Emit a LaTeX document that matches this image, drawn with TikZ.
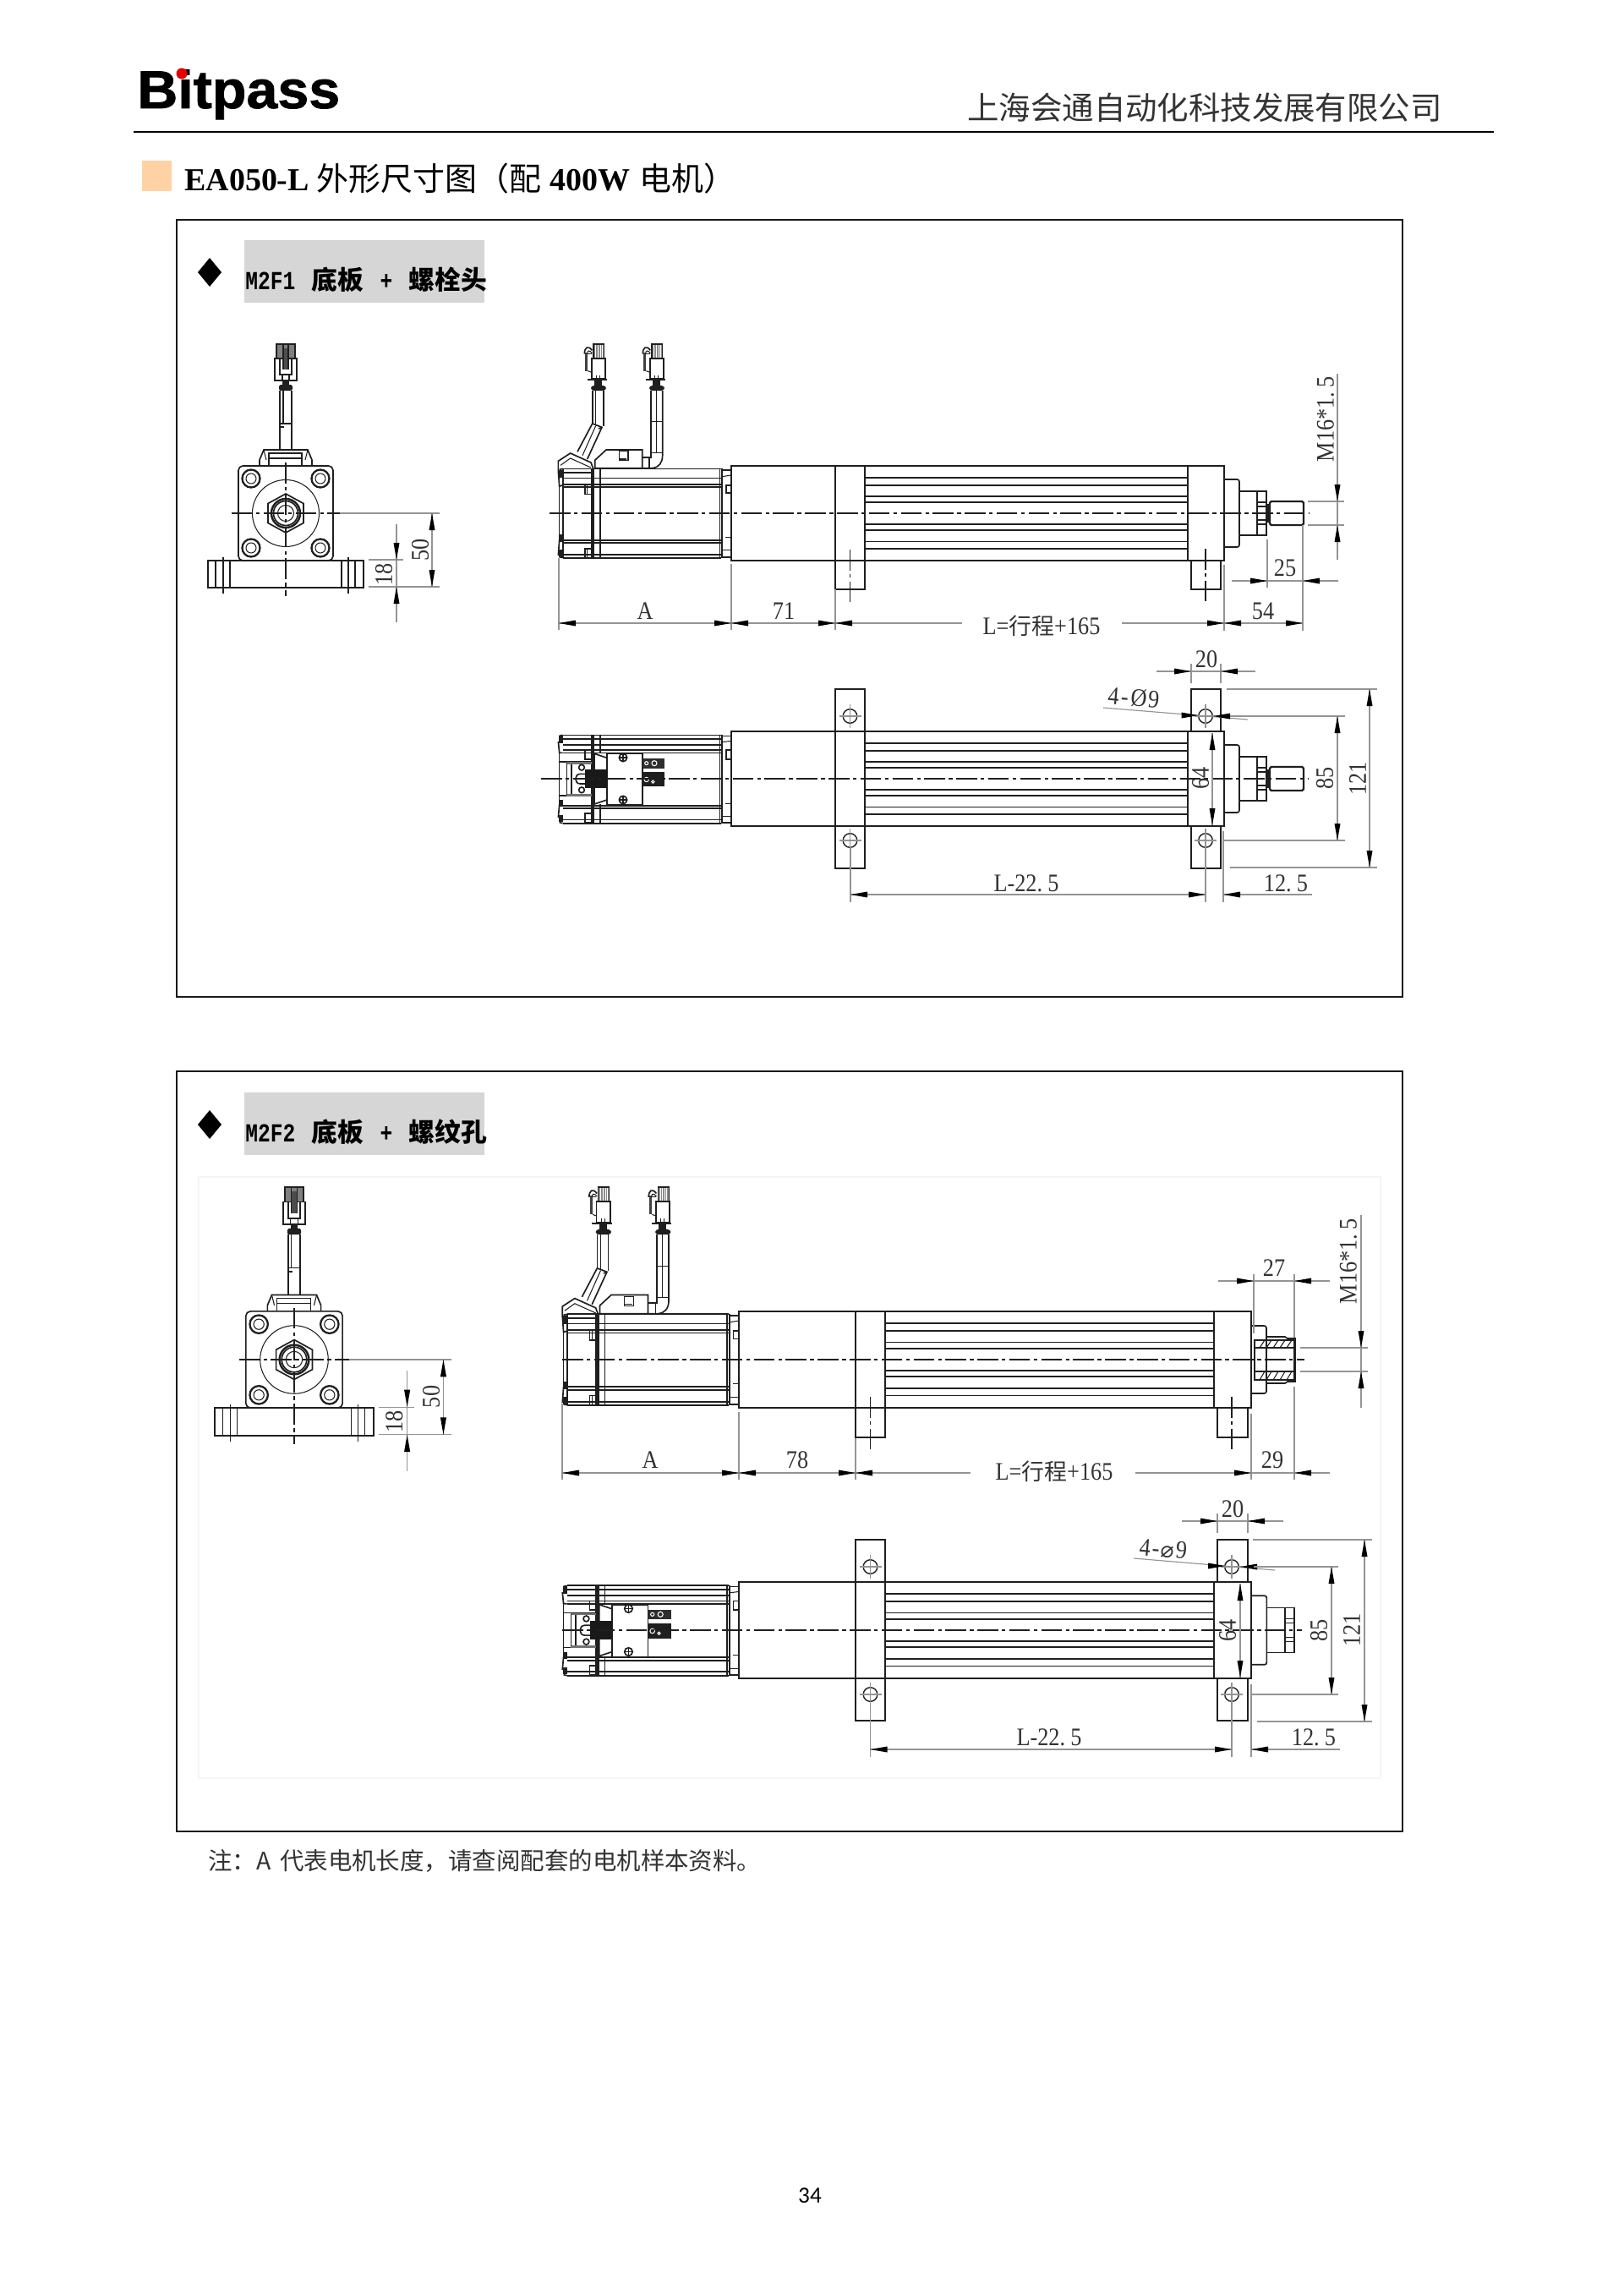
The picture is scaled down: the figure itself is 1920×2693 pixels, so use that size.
\documentclass[tikz,border=0pt]{standalone}
\usepackage{fontspec}
\setmainfont{Liberation Serif}
\newfontfamily\cjk{Noto Sans CJK SC}
\newfontfamily\cjkd[Scale=0.9]{Noto Sans CJK SC}
\newfontfamily\dimf[FakeStretch=0.88]{Liberation Serif}
\newfontfamily\logof[FakeStretch=1.05,FakeBold=1.2]{Liberation Sans Bold}
\newfontfamily\lblf[FakeStretch=0.8]{Liberation Mono Bold}
\newfontfamily\djv{DejaVu Sans}
\newfontfamily\pagef{Carlito}
\newcount\nc
\colorlet{ink}{black!88}
\colorlet{dimc}{black!42}
\tikzset{
 x=0.02cm,y=-0.02cm,
 ml/.style={draw=ink,line width=0.95pt},
 mt/.style={draw=ink,line width=0.6pt},
 dl/.style={draw=dimc,line width=0.65pt},
 cl/.style={draw=ink,line width=0.7pt,dash pattern=on 14pt off 2.5pt on 2.5pt off 2.5pt},
 dtx/.style={inner sep=0pt,font=\fontsize{17}{19}\selectfont\dimf,text=black!80},
 frameb/.style={draw=black!90,line width=1.5pt}
}
\newcommand\dt[4][0]{\global\advance\nc by 1 \node[dtx,rotate=#1] (t\the\nc) at (#2,#3) {#4};}
\newcommand\tipR[2]{\fill[black] (#1,#2)--++(-20,-3.5)--++(0,7)--cycle;}
\newcommand\tipL[2]{\fill[black] (#1,#2)--++(20,-3.5)--++(0,7)--cycle;}
\newcommand\tipD[2]{\fill[black] (#1,#2)--++(-3.5,-20)--++(7,0)--cycle;}
\newcommand\tipU[2]{\fill[black] (#1,#2)--++(-3.5,20)--++(7,0)--cycle;}
% front view, local pixels round the axis
\newcommand\frontview[3]{%
\begin{scope}[shift={(#1,#2)},scale=#3]
 \draw[ml,rounded corners=3pt] (-56,-56) rectangle (56,56);
 \foreach \a/\b in {-41/-41,41/-41,-41/41,41/41}{
  \draw[draw=ink,line width=1.3pt] (\a,\b) circle (10.5);
  \draw[mt] (\a,\b) circle (6);}
 \draw[mt] (0,0) circle (39.5);
 \draw[ml] (0,-23)--(21,-11.5)--(21,11.5)--(0,23)--(-21,11.5)--(-21,-11.5)--cycle;
 \draw[draw=ink,line width=1.4pt] (0,0) circle (17);
 \draw[ml] (0,0) circle (14.5);
 \draw[mt] (0,0) circle (9.5);
 \draw[ml] (-92,56) rectangle (92,88);
 \foreach \a in {-83,-66,66,82}{\draw[mt] (\a,56)--(\a,88);}
 \foreach \a in {-74,74}{\draw[ml] (\a,52)--(\a,95);}
 % top housing
 \draw[ml] (-31,-56)--(-31,-63)--(-26,-75)--(26,-75)--(31,-63)--(31,-56);
 \draw[ml] (-20,-56)--(-20,-71)--(19,-71)--(19,-56);
 \draw[mt] (-20,-65)--(19,-65);\draw[mt] (-26,-75)--(-23,-63);\draw[mt] (26,-75)--(23,-63);
 \draw[ml] (-7,-75)--(-7,-145);\draw[ml] (7,-75)--(7,-145);
 \draw[mt] (-3,-145)--(-3,-106);\draw[mt] (-7,-106)--(7,-106);\draw[mt] (-7,-102)--(-2,-102);
 \fill[ink,rounded corners=1pt] (-8,-152) rectangle (8,-145);
 \fill[ink] (-4,-157) rectangle (4,-152);
 \draw[ml] (-13,-183) rectangle (13,-157);
 \draw[ml] (-7,-183) rectangle (7,-164);
 \draw[mt] (-4,-157) rectangle (4,-164);
 \fill[black!50] (-11,-200) rectangle (11,-183);
 \draw[ml] (-11,-200) rectangle (11,-183);
 \fill[black!70] (-4,-195) rectangle (4,-170);
 \draw[mt] (-3,-200)--(-3,-170);\draw[mt] (3,-200)--(3,-170);
 % centre lines
 \draw[cl] (0,-60)--(0,98);
 \draw[cl] (-64,0)--(64,0);
 \draw[dl] (64,0)--(182,0);
 \draw[dl] (98,87)--(182,87);
 \draw[dl] (98,55)--(139,55);
 \draw[dl] (173,0)--(173,87);
 \draw[dl] (131,13)--(131,129);
 \tipU{173}{0}\tipD{173}{87}
 \tipD{131}{55}\tipU{131}{87}
 \dt[90]{159}{43}{50}
 \dt[90]{116}{72}{18}
\end{scope}}
% a cable connector in side view (zoom coordinates)
\newcommand\connside{%
 \fill[black!45] (187,50) rectangle (225,100);
 \draw[mt] (187,50) rectangle (225,100);
 \foreach \a in {195,203,211,218}{\draw[draw=white,line width=0.4pt] (\a,52)--(\a,98);}
 \draw[ml] (180,100) rectangle (228,172);
 \draw[ml] (165,176)--(235,176);
 \draw[mt] (197,160)--(197,176);\draw[mt] (209,160)--(209,176);
 \fill[black!75] (157,80) rectangle (167,145);
 \draw[mt] (167,85)--(180,85);\draw[mt] (167,145)--(180,150);
 \draw[ml] (182,72)..controls (167,52) and (155,62)..(155,85);
 \draw[mt] (182,82)..controls (172,70) and (165,72)..(165,85);
 \fill[ink] (190,178) rectangle (216,196);
 \fill[ink,rounded corners=2pt] (178,197) rectangle (232,215);}
\newcommand\motorside[3]{%
\begin{scope}[shift={(#1,#2)},scale=#3/3]\begin{scope}[shift={(-676,-650)}]
 \draw[ml] (78,492)--(640,492);\draw[ml] (78,808)--(640,808);
 \foreach \b in {525,547,557,745,755,797}{\draw[ml] (78,\b)--(640,\b);}
 \draw[ml] (78,505)--(180,505);
 \draw[ml] (78,492)--(78,808);
 \draw[ml] (66,495)--(78,492);\draw[ml] (66,805)--(78,808);
 \draw[ml] (62,500)--(66,555)--(78,550);
 \draw[ml] (62,800)--(66,745)--(78,745);
 \draw[mt] (66,555)--(66,745);
 \fill[ink] (63,497) rectangle (78,525);\fill[ink] (63,725) rectangle (78,752);\fill[ink] (63,778) rectangle (78,806);
 \foreach \a in {180,188}{\draw[draw=ink,line width=1.3pt] (\a,492)--(\a,808);}
 \draw[ml] (210,492)--(210,808);
 \draw[ml] (635,492)--(635,808);\draw[ml] (643,492)--(643,808);
 \draw[ml] (643,497)--(676,497);\draw[ml] (643,805)--(676,805);
 \draw[mt] (643,520)--(676,515);\draw[mt] (643,780)--(676,780);
 \draw[mt] (655,735)--(676,735);
 \draw[ml] (157,548) rectangle (185,582);\draw[mt] (165,548)--(165,582);
 \draw[ml] (157,775) rectangle (185,808);\draw[mt] (165,775)--(165,808);
 \draw[ml] (657,550) rectangle (675,578);
 % encoder cover
 \draw[ml] (62,500)--(62,465)--(105,437)--(178,470)--(186,492);
 \draw[mt] (70,480)--(105,455)--(178,488);
 % oblique cable
 \draw[ml] (130,432)--(183,332)--(217,345)--(165,458);
 \draw[mt] (148,445)--(195,340);
 \draw[ml] (205,350)--(217,345);
 % cable 1
 \draw[ml] (183,215)--(183,332);\draw[ml] (222,215)--(222,340);
 \draw[mt] (194,215)--(194,336);
 \connside
 % rear housing and cable 2
 \draw[ml] (192,490)--(192,462)--(232,425)--(360,425)--(360,490)--cycle;
 \draw[mt] (278,430) rectangle (310,462);
 \draw[mt] (280,458)--(305,458);
 \draw[ml] (360,452)--(390,452)--(390,215);
 \draw[ml] (360,490)--(395,490)..controls (420,488) and (432,470)..(432,445)--(432,215);
 \draw[mt] (410,215)--(410,435);\draw[mt] (390,325)--(432,325);\draw[mt] (390,435)--(432,435);
 \draw[mt] (385,452)--(385,490);
 \begin{scope}[shift={(207,0)}]\connside\end{scope}
\end{scope}\end{scope}}
% motor seen from above (zoom coordinates)
\newcommand\motortop[3]{%
\begin{scope}[shift={(#1,#2)},scale=#3/3]\begin{scope}[shift={(-676,-422)}]
 \foreach \b in {267,280,302,320,330,517,527,567,580}{\draw[ml] (78,\b)--(640,\b);}
 \draw[ml] (66,270)--(78,267);\draw[ml] (66,577)--(78,580);
 \draw[ml] (62,290)--(66,330)--(78,330);\draw[ml] (62,560)--(66,515)--(78,515);
 \draw[mt] (66,330)--(66,515);
 \fill[ink] (63,270) rectangle (78,295);\fill[ink] (63,498) rectangle (78,522);\fill[ink] (63,552) rectangle (78,576);
 \foreach \a in {180,188}{\draw[draw=ink,line width=1.3pt] (\a,267)--(\a,580);}
 \draw[ml] (210,267)--(210,333);\draw[ml] (210,512)--(210,580);
 \draw[ml] (635,267)--(635,580);\draw[ml] (643,267)--(643,580);
 \draw[ml] (643,270)--(676,270);\draw[ml] (643,577)--(676,577);
 \draw[mt] (643,292)--(676,288);\draw[mt] (643,555)--(676,555);\draw[mt] (655,510)--(676,510);
 \draw[ml] (157,320) rectangle (185,352);\draw[ml] (157,545) rectangle (185,578);
 \draw[ml] (657,320) rectangle (675,352);
 % rear encoder
 \draw[ml] (66,362)--(180,362);\draw[ml] (66,482)--(180,482);
 \fill[black!55] (92,362) rectangle (180,370);\fill[black!55] (92,476) rectangle (180,484);
 \draw[ml] (92,365)--(92,478);\draw[ml] (108,370)--(108,476);
 \draw[ml] (160,405)--(140,405)..controls (118,405) and (118,440)..(140,440)--(160,440);
 \draw[ml] (145,382) circle (10);\draw[ml] (145,462) circle (10);
 % housing
 \draw[ml] (190,333)--(235,348)--(235,497)--(190,512)--cycle;
 \draw[ml] (235,333) rectangle (360,515);
 \fill[black!90] (158,390) rectangle (235,455);
 \draw[ml] (292,347) circle (14);\draw[ml] (278,347)--(306,347);\draw[ml] (292,333)--(292,361);
 \draw[ml] (292,497) circle (14);\draw[ml] (278,497)--(306,497);\draw[ml] (292,483)--(292,511);
 % connector blocks
 \fill[black!82] (360,350) rectangle (440,385);
 \fill[black!88] (360,397) rectangle (440,450);
 \draw[draw=white,line width=0.6pt] (403,367) circle (9);\draw[draw=white,line width=0.6pt] (375,367) circle (6);
 \draw[draw=white,line width=0.6pt] (375,425) circle (8);\draw[draw=white,line width=0.6pt] (398,433) circle (5);
\end{scope}\end{scope}}
% actuator body: block, flange, ribs, end block
\newcommand\tube[7]{%
\begin{scope}[shift={(0,#6)},yscale=#7]
 \draw[ml] (#1,-56) rectangle (#5,56);
 \draw[ml] (#2,-56)--(#2,56);\draw[ml] (#3,-56)--(#3,56);\draw[ml] (#4,-56)--(#4,56);
 \foreach \b in {-126,-100,-60,-39,38,59,100,125}{\draw[ml] (#3,\b/3)--(#4,\b/3);}
\end{scope}}
\newcommand\capsteps[3]{%
\begin{scope}[shift={(#1,#2)},scale=#3]
 \draw[ml,rounded corners=1.5pt] (0,-40)--(18,-40)--(18,40)--(0,40);
 \draw[ml] (18,-26)--(39,-26)--(39,26)--(18,26);
 \draw[ml] (39,-26)--(50,-26)--(50,26)--(39,26);
 \draw[mt] (39,-13)--(50,-13);\draw[mt] (39,-8)--(50,-8);\draw[mt] (39,8)--(50,8);\draw[mt] (39,13)--(50,13);
\end{scope}}
\newcommand\stud[3]{%
\begin{scope}[shift={(#1,#2)},scale=#3]
 \draw[draw=ink,line width=1.3pt,rounded corners=1pt] (54,-14) rectangle (94,14);
 \draw[mt] (52,-10) rectangle (54,10);
\end{scope}}
\newcommand\sidefeet[7]{% f f2 e e2 cy s
\begin{scope}[shift={(0,#5)},yscale=#6]
 \draw[ml] (#1,56)--(#1,90)--(#2,90)--(#2,56);
 \draw[ml] (#3,56)--(#3,90)--(#4,90)--(#4,56);
\end{scope}}
\newcommand\topfeet[7]{% f f2 e e2 cy s
\begin{scope}[shift={(0,#5)},yscale=#6]
 \draw[ml] (#1,-56)--(#1,-106)--(#2,-106)--(#2,-56);
 \draw[ml] (#1,56)--(#1,106)--(#2,106)--(#2,56);
 \draw[ml] (#3,-56)--(#3,-106)--(#4,-106)--(#4,-56);
 \draw[ml] (#3,56)--(#3,106)--(#4,106)--(#4,56);
\end{scope}}
\newcommand\mhole[2]{\draw[draw=ink,line width=0.8pt] (#1,#2) circle (8.3);
 \draw[dl] (#1-13,#2)--(#1+13,#2);\draw[dl] (#1,#2-14)--(#1,#2+14);}
\begin{document}
\begin{tikzpicture}
\useasboundingbox (0,0) rectangle (1920,2693);
\fill[white] (0,0) rectangle (1920,2693);
% ---- header
\node[anchor=base west,inner sep=0pt,font=\fontsize{36}{38}\selectfont\logof] (logo) at (162,128) {Bitpass};
\fill[red!90!black] (215,87) circle (6.5);
\node[anchor=base east,inner sep=0pt,font=\fontsize{21.3}{23}\selectfont\cjk,text=black!80] (company) at (1706,142) {上海会通自动化科技发展有限公司};
\draw[draw=black,line width=1.5pt] (158,156)--(1767,156);
\fill[orange!35!white] (168,190) rectangle (203,226);
\node[anchor=base west,inner sep=0pt,font=\fontsize{21.6}{24}\selectfont\bfseries] (title) at (218,226) {EA050-L\hspace{5pt}{\cjk\mdseries 外形尺寸图（配}\hspace{6pt}400W\hspace{6pt}{\cjk\mdseries 电机）}};
% ---- frames
\draw[frameb] (209,260) rectangle (1659,1179);
\draw[frameb] (209,1267) rectangle (1659,2166);
\draw[draw=black!4,line width=0.6pt] (235,1392) rectangle (1633,2103);
% ---- labels
\fill[black!16] (289,284) rectangle (573,358);
\fill[black] (248,305)--(262,322)--(248,339)--(234,322)--cycle;
\node[anchor=base west,inner sep=0pt,font=\fontsize{17.5}{20}\selectfont\lblf] (lab1) at (290,342) {M2F1\hspace{11pt}{\cjk\bfseries 底板}\hspace{11pt}+\hspace{11pt}{\cjk\bfseries 螺栓头}};
\fill[black!16] (289,1292) rectangle (573,1366);
\fill[black] (248,1313)--(262,1330)--(248,1347)--(234,1330)--cycle;
\node[anchor=base west,inner sep=0pt,font=\fontsize{17.5}{20}\selectfont\lblf] (lab2) at (290,1350) {M2F2\hspace{11pt}{\cjk\bfseries 底板}\hspace{11pt}+\hspace{11pt}{\cjk\bfseries 螺纹孔}};
% ---- panel 1 front
\frontview{338}{607}{1}
% ---- panel 1 side
\motorside{865}{607}{1}
\tube{865}{988}{1023}{1405}{1448}{607}{1}
\sidefeet{988}{1023}{1409}{1444}{607}{1}{}
\capsteps{1448}{607}{1}\stud{1448}{607}{1}
\draw[cl] (650,607)--(1549,607);
\draw[cl] (1005.5,650)--(1005.5,712);\draw[cl] (1426,649)--(1426,712);
\draw[dl] (661,660)--(661,745);\draw[dl] (865,667)--(865,745);\draw[dl] (988,697)--(988,745);
\draw[dl] (1448,668)--(1448,746);\draw[dl] (1541,621)--(1541,746);\draw[dl] (1499,638)--(1499,695);
\draw[dl] (661,737)--(1138,737);\draw[dl] (1327,737)--(1541,737);
\tipL{661}{737}\tipR{865}{737}\tipL{865}{737}\tipR{988}{737}\tipL{988}{737}\tipR{1448}{737}\tipL{1448}{737}\tipR{1541}{737}
\draw[dl] (1457,687)--(1583,687);\tipR{1499}{687}\tipL{1541}{687}
\draw[dl] (1582,442)--(1582,662);\draw[dl] (1547,593)--(1590,593);\draw[dl] (1547,621)--(1590,621);
\tipD{1582}{593}\tipU{1582}{621}
\dt{763}{723}{A}\dt{927}{723}{71}\dt{1232}{740}{L={\cjkd 行程}+165}\dt{1494}{723}{54}\dt{1520}{672}{25}
\dt[90]{1568}{496}{M16*1.\,5}
% ---- panel 1 top
\motortop{865}{921}{1}
\tube{865}{988}{1023}{1405}{1448}{921}{1}
\topfeet{988}{1023}{1409}{1444}{921}{1}{}
\capsteps{1448}{921}{1}\stud{1448}{921}{1}
\draw[cl] (640,921)--(1548,921);
\mhole{1005.5}{847}\mhole{1005.5}{994}\mhole{1426}{847}\mhole{1426}{994}
\draw[dl] (1409,785)--(1409,808);\draw[dl] (1444,785)--(1444,808);\draw[dl] (1368,794)--(1485,794);
\tipR{1409}{794}\tipL{1444}{794}
\draw[dl] (1305,837)--(1476,851);
\tipR{1417.5}{846}\fill[black] (1435,847)--++(20,-3.5)--++(0,7)--cycle;
\draw[dl] (1455,847)--(1591,847);\draw[dl] (1447,994)--(1591,994);\draw[dl] (1582,847)--(1582,994);
\tipU{1582}{847}\tipD{1582}{994}
\draw[dl] (1451,815)--(1629,815);\draw[dl] (1455,1026)--(1629,1026);\draw[dl] (1620,815)--(1620,1026);
\tipU{1620}{815}\tipD{1620}{1026}
\draw[dl] (1434,867)--(1434,976);\tipU{1434}{867}\tipD{1434}{976}
\draw[dl] (1447,983)--(1447,1067);\draw[dl] (1426,1002)--(1426,1067);\draw[dl] (1006,1002)--(1006,1067);
\draw[dl] (1006,1058)--(1426,1058);\draw[dl] (1447,1058)--(1552,1058);
\tipL{1006}{1058}\tipR{1426}{1058}\tipL{1447}{1058}
\dt{1427}{780}{20}
\dt[-5]{1341}{825}{4\kern1.5pt-\kern1.5ptØ\kern1pt9}
\dt[90]{1567}{920}{85}\dt[90]{1606}{921}{121}\dt[90]{1420}{920}{64}
\dt{1521}{1045}{12.\hspace{3.5pt}5}\dt{1214}{1045}{L-22.\hspace{3.5pt}5}
% ---- panel 2 front
\frontview{348}{1608}{1.02}
% ---- panel 2 side
\motorside{874}{1608}{1.02}
\tube{874}{1012}{1047}{1436}{1480}{1608}{1.02}
\sidefeet{1012}{1047}{1440}{1476}{1608}{1.02}{}
\draw[ml,rounded corners=1.5pt] (1480,1568)--(1498,1568)--(1498,1648)--(1480,1648);
\draw[ml] (1498,1581)--(1520,1581)--(1523,1583)--(1532,1583)--(1532,1634)--(1523,1634)--(1520,1636)--(1498,1636);
\draw[ml] (1484,1585) rectangle (1531,1594);
\draw[ml] (1484,1622) rectangle (1531,1632);
\draw[ml] (1484,1594)--(1484,1622);\draw[ml] (1531,1594)--(1531,1622);
\foreach \a in {1490,1498,...,1522}{\draw[mt] (\a,1594)--(\a+6,1585);\draw[mt] (\a,1632)--(\a+6,1622);}
\draw[cl] (665,1608)--(1543,1608);
\draw[cl] (1029.5,1652)--(1029.5,1715);\draw[cl] (1457,1652)--(1457,1715);
\draw[dl] (665,1660)--(665,1750);\draw[dl] (874,1670)--(874,1750);\draw[dl] (1012,1701)--(1012,1750);
\draw[dl] (1480,1672)--(1480,1750);\draw[dl] (1531,1640)--(1531,1750);
\draw[dl] (665,1742)--(1148,1742);\draw[dl] (1343,1742)--(1573,1742);
\tipL{665}{1742}\tipR{874}{1742}\tipL{874}{1742}\tipR{1012}{1742}\tipL{1012}{1742}\tipR{1480}{1742}\tipL{1531}{1742}
\draw[dl] (1483,1507)--(1483,1577);\draw[dl] (1531,1507)--(1531,1582);\draw[dl] (1441,1515)--(1573,1515);
\tipR{1483}{1515}\tipL{1531}{1515}
\draw[dl] (1610,1437)--(1610,1665);\draw[dl] (1538,1594)--(1618,1594);\draw[dl] (1538,1622)--(1618,1622);
\tipD{1610}{1594}\tipU{1610}{1622}
\dt{769}{1727}{A}\dt{943}{1727}{78}\dt{1247}{1740}{L={\cjkd 行程}+165}\dt{1505}{1727}{29}\dt{1507}{1500}{27}
\dt[90]{1595}{1492}{M16*1.\,5}
% ---- panel 2 top
\motortop{874}{1928}{1.02}
\tube{874}{1012}{1047}{1436}{1480}{1928}{1.02}
\topfeet{1012}{1047}{1440}{1476}{1928}{1.01}{}
\capsteps{1480}{1928}{1.02}
\draw[cl] (665,1928)--(1540,1928);
\mhole{1029.5}{1853}\mhole{1029.5}{2004}\mhole{1457}{1853}\mhole{1457}{2004}
\draw[dl] (1440,1790)--(1440,1813);\draw[dl] (1476,1790)--(1476,1813);\draw[dl] (1398,1799)--(1518,1799);
\tipR{1440}{1799}\tipL{1476}{1799}
\draw[dl] (1341,1843)--(1508,1857);
\tipR{1449}{1852}\fill[black] (1467,1853)--++(20,-3.5)--++(0,7)--cycle;
\draw[dl] (1483,1853)--(1583,1853);\draw[dl] (1480,2004)--(1583,2004);\draw[dl] (1575,1853)--(1575,2004);
\tipU{1575}{1853}\tipD{1575}{2004}
\draw[dl] (1482,1821)--(1623,1821);\draw[dl] (1487,2036)--(1623,2036);\draw[dl] (1614,1821)--(1614,2036);
\tipU{1614}{1821}\tipD{1614}{2036}
\draw[dl] (1467,1873)--(1467,1984);\tipU{1467}{1873}\tipD{1467}{1984}
\draw[dl] (1480,1992)--(1480,2078);\draw[dl] (1457,2012)--(1457,2078);\draw[dl] (1029.5,2012)--(1029.5,2078);
\draw[dl] (1029.5,2069)--(1457,2069);\draw[dl] (1480,2069)--(1585,2069);
\tipL{1029.5}{2069}\tipR{1457}{2069}\tipL{1480}{2069}
\dt{1458}{1785}{20}
\dt[-5]{1376}{1832}{4\kern1pt-\kern1pt{\djv\fontsize{15}{17}\selectfont ⌀}\kern1pt9}
\dt[90]{1560}{1928}{85}\dt[90]{1599}{1928}{121}\dt[90]{1452}{1928}{64}
\dt{1554}{2055}{12.\hspace{3.5pt}5}\dt{1241}{2055}{L-22.\hspace{3.5pt}5}
% ---- footer
\node[anchor=west,inner sep=0pt,font=\fontsize{16.2}{18}\selectfont\cjk,text=black!80] (note) at (246,2201) {注：A\hspace{6pt}代表电机长度，请查阅配套的电机样本资料。};
\node[inner sep=0pt,font=\fontsize{15.5}{17}\selectfont\pagef] (page) at (958,2597) {34};
\end{tikzpicture}
\end{document}
